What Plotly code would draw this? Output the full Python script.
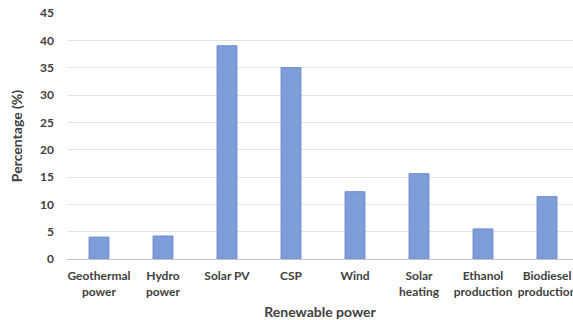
import plotly.graph_objects as go

categories = ["Geothermal<br>power", "Hydro<br>power", "Solar PV", "CSP", "Wind",
              "Solar<br>heating", "Ethanol<br>production", "Biodiesel<br>production"]
values = [4.0, 4.2, 39.0, 35.0, 12.3, 15.6, 5.5, 11.4]
y_ticks = [0, 5, 10, 15, 20, 25, 30, 35, 40, 45]

FONT = "Lato"
TXT = "#404040"

fig = go.Figure(go.Bar(
    x=categories, y=values,
    marker=dict(color="#7E9EDB", line=dict(color="#6688CC", width=1)),
))

fig.update_layout(
    width=573, height=320,
    margin=dict(l=67, r=0, t=13, b=61),
    paper_bgcolor="white", plot_bgcolor="white",
    bargap=0.69,
    showlegend=False,
    font=dict(family=FONT, color=TXT, size=12, weight="bold"),
)
fig.update_xaxes(
    type="category",
    range=[-0.5, 7.406],
    automargin=False,
    showgrid=False,
    showline=True, linecolor="#C4C4C4", linewidth=1,
    ticks="", ticklabelstandoff=6,
    tickfont=dict(family=FONT, size=12, color=TXT, weight="bold"),
    title=dict(text="Renewable power", font=dict(family=FONT, size=14, color=TXT, weight="bold"), standoff=11),
)
fig.update_yaxes(
    range=[0, 45], tickvals=y_ticks,
    automargin=False,
    showgrid=True, gridcolor="#E4E4E4", gridwidth=1,
    zeroline=False, showline=False,
    ticks="", ticklabelstandoff=12,
    tickfont=dict(family=FONT, size=12, color=TXT, weight="bold"),
    title=dict(text="Percentage (%)", font=dict(family=FONT, size=14, color=TXT, weight="bold"), standoff=14),
)

fig.write_html("out.html", config={"displayModeBar": False},
               post_script="document.body.style.margin='0';")
